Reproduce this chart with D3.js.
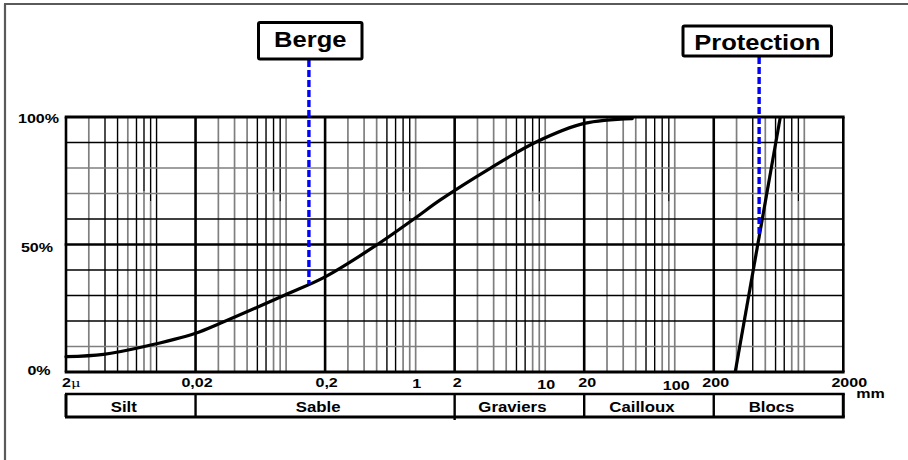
<!DOCTYPE html>
<html><head><meta charset="utf-8">
<script src="https://cdn.jsdelivr.net/npm/d3@7"></script>
<style>
body{margin:0;background:#fff}
svg{display:block}
text{font-family:"Liberation Sans",Arial,sans-serif;font-weight:bold;fill:#000}
</style>
</head><body><svg id="c" width="908" height="460"></svg>
<script>
// ---- data ----
const bergeSize = [0.002, 0.0039, 0.0079, 0.02, 0.031, 0.098, 0.2, 0.5, 1.0, 1.55, 3.76, 8.6, 20, 47];
const bergePct  = [6.0, 6.9, 9.9, 15.2, 19.1, 30.2, 37.3, 49.8, 60.5, 67.5, 79.9, 90.3, 97.5, 99.4];
const protectionSize = [293, 653];
const protectionPct  = [0, 100];
const markerNames = ["Berge", "Protection"];
const markerSizes = [0.15, 448];
const xTickValues = [0.002, 0.02, 0.2, 1, 2, 10, 20, 100, 200, 2000];
const xTickLabels = ["2", "0,02", "0,2", "1", "2", "10", "20", "100", "200", "2000"];
const yTickValues = [0, 50, 100];
const yTickLabels = ["0%", "50%", "100%"];
const classNames  = ["Silt", "Sable", "Graviers", "Cailloux", "Blocs"];
const classBounds = [0.002, 0.02, 2, 20, 200, 2000];
const decadeStarts = [0.002, 0.02, 0.2, 2, 20, 200];
const majorSizes = [0.002, 0.02, 0.2, 2, 20, 200, 2000];
const gridMultiples = [1.5, 2, 2.5, 3, 3.5, 4, 4.5, 5];
const gridPct = [10, 20, 30, 40, 60, 70, 80, 90];

// ---- layout / style ----
const L = {left: 66, right: 843.3, top: 117, bottom: 372};
const GRAY = "#7f7f7f", BLACK = "#000";
const svg = d3.select("#c");
const xs = d3.scaleLog().domain([0.002, 2000]).range([L.left, L.right]);
const ys = d3.scaleLinear().domain([0, 100]).range([L.bottom, L.top]);

// frame (only top & left visible)
svg.append("line").attr("x1",4).attr("y1",4).attr("x2",908).attr("y2",4).attr("stroke","#5a5a5a").attr("stroke-width",2.2);
svg.append("line").attr("x1",5).attr("y1",4).attr("x2",5).attr("y2",460).attr("stroke","#5a5a5a").attr("stroke-width",2.2);

function stext(g, str, cx, y, size, f, anchor) {
  return g.append("text").attr("font-size", size).attr("text-anchor", anchor || "middle")
    .attr("transform", `translate(${cx},${y}) scale(${f},1)`).text(str);
}

const grid = svg.append("g");
const patDefault = ["g","g","g","b","b","s1","s2","g"];
const patFirst   = ["g","b","b","g","b","s1","s2","b"];
const patLast    = ["g","b","g","b","b","s1","s2","g"];
const vlines = [];
decadeStarts.forEach((b, di) => {
  const pat = di === 0 ? patFirst : (di === decadeStarts.length - 1 ? patLast : patDefault);
  gridMultiples.forEach((m, i) => vlines.push({v: b * m, t: pat[i]}));
});
vlines.forEach(d => {
  const x = xs(d.v);
  if (d.t === "g" || d.t === "b") {
    grid.append("line").attr("x1",x).attr("x2",x).attr("y1",ys(100)).attr("y2",ys(0))
      .attr("stroke", d.t === "g" ? GRAY : BLACK).attr("stroke-width", d.t === "g" ? 1.7 : 1.4);
  } else {
    const split = d.t === "s1" ? 71 : 67;
    grid.append("line").attr("x1",x).attr("x2",x).attr("y1",ys(split)).attr("y2",ys(0))
      .attr("stroke", GRAY).attr("stroke-width",1.7);
    grid.append("line").attr("x1",x).attr("x2",x).attr("y1",ys(100)).attr("y2",ys(split))
      .attr("stroke", BLACK).attr("stroke-width",1.4);
  }
});
const hColor = {10: GRAY, 20: BLACK, 30: BLACK, 40: BLACK, 60: BLACK, 70: GRAY, 80: GRAY, 90: BLACK};
grid.selectAll(".h").data(gridPct).enter().append("line")
  .attr("x1", L.left).attr("x2", L.right).attr("y1", d => ys(d)).attr("y2", d => ys(d))
  .attr("stroke", d => hColor[d]).attr("stroke-width", d => hColor[d] === GRAY ? 1.7 : 1.4);
grid.selectAll(".mv").data(majorSizes).enter().append("line")
  .attr("x1", d => xs(d)).attr("x2", d => xs(d)).attr("y1", ys(100)).attr("y2", ys(0))
  .attr("stroke", BLACK).attr("stroke-width", 2.6);
grid.selectAll(".mh").data(yTickValues).enter().append("line")
  .attr("x1", L.left - 1.3).attr("x2", L.right + 1.3).attr("y1", d => ys(d)).attr("y2", d => ys(d))
  .attr("stroke", BLACK).attr("stroke-width", d => d === 50 ? 2.6 : 3.2);

// curves
const line = d3.line().x(d => xs(d[0])).y(d => ys(d[1])).curve(d3.curveCatmullRom.alpha(0.5));
const bergeData = bergeSize.map((s, i) => [s, bergePct[i]]);
const protData = protectionSize.map((s, i) => [s, protectionPct[i]]);
svg.append("path").attr("d", line(bergeData)).attr("fill","none").attr("stroke","#000").attr("stroke-width",3.2).attr("stroke-linecap","round");
svg.append("path").attr("d", line(protData)).attr("fill","none").attr("stroke","#000").attr("stroke-width",3.2);

// y labels
const yLabelCx = {0: 39, 50: 37, 100: 38.5};
const yLabelDy = {0: 3, 50: 7.5, 100: 6};
yTickValues.forEach((v, i) => stext(svg, yTickLabels[i], yLabelCx[v], ys(v) + yLabelDy[v], 12, 1.34));

// x labels
const xDx = {0.002: 0, 0.02: 1.5, 0.2: 1.5, 1: 1, 2: 2.5, 10: 1, 20: 3, 100: 1.5, 200: 2, 2000: 6};
const xBase = {1: 388, 10: 389, 100: 389.5};
xTickValues.forEach((v, i) => {
  const y = xBase[v] || 387;
  if (i === 0) {
    const t = svg.append("text").attr("font-size", 12).attr("transform", `translate(${xs(v) - 4},${y}) scale(1.34,1)`);
    t.append("tspan").text(xTickLabels[i]);
    t.append("tspan").attr("font-family", "DejaVu Serif, serif").attr("font-weight", "normal").attr("font-size", 11).text("μ");
  } else {
    stext(svg, xTickLabels[i], xs(v) + xDx[v], y, 12, 1.34);
  }
});
stext(svg, "mm", 870.5, 398, 12, 1.34);

// class band
const band = {y1: 394, y2: 417};
svg.append("line").attr("x1", L.left - 1).attr("x2", L.right + 1.5).attr("y1", band.y1).attr("y2", band.y1).attr("stroke","#000").attr("stroke-width",2.6);
svg.append("line").attr("x1", L.left - 1).attr("x2", L.right + 1.5).attr("y1", band.y2).attr("y2", band.y2).attr("stroke","#000").attr("stroke-width",3);
classBounds.forEach((b, i) => {
  svg.append("line").attr("x1", xs(b)).attr("x2", xs(b)).attr("y1", band.y1).attr("y2", band.y2 + (i === 2 ? 3 : 0))
    .attr("stroke","#000").attr("stroke-width", (i === 0 || i === classBounds.length - 1) ? 3 : 2.4);
});
classNames.forEach((n, i) => {
  const cx = (xs(classBounds[i]) + xs(classBounds[i + 1])) / 2 - 7;
  stext(svg, n, cx, 411.5, 14, 1.2);
});

// markers
function interp(data, s) {
  const lx = Math.log10(s);
  for (let i = 0; i < data.length - 1; i++) {
    const a = Math.log10(data[i][0]), b = Math.log10(data[i + 1][0]);
    if (lx >= a && lx <= b) return data[i][1] + (data[i + 1][1] - data[i][1]) * (lx - a) / (b - a);
  }
  return data[data.length - 1][1];
}
const boxes = [
  {x1: 258.5, x2: 362, y1: 22.5, y2: 59, base: 46.7},
  {x1: 683, x2: 831.5, y1: 26, y2: 56, base: 50}
];
const series = [bergeData, protData];
markerNames.forEach((n, i) => {
  const bx = boxes[i];
  const x = xs(markerSizes[i]);
  svg.append("line").attr("x1", x).attr("x2", x).attr("y1", bx.y2 + 1)
    .attr("y2", ys(interp(series[i], markerSizes[i])))
    .attr("stroke", "#0000ff").attr("stroke-width", 3.4).attr("stroke-dasharray", "7,3");
  svg.append("rect").attr("x", bx.x1).attr("y", bx.y1).attr("width", bx.x2 - bx.x1).attr("height", bx.y2 - bx.y1)
    .attr("rx", 1.5).attr("fill", "#fff").attr("stroke", "#000").attr("stroke-width", 3);
  stext(svg, n, (bx.x1 + bx.x2) / 2, bx.base, 22, 1.16);
});
</script>
</body></html>
